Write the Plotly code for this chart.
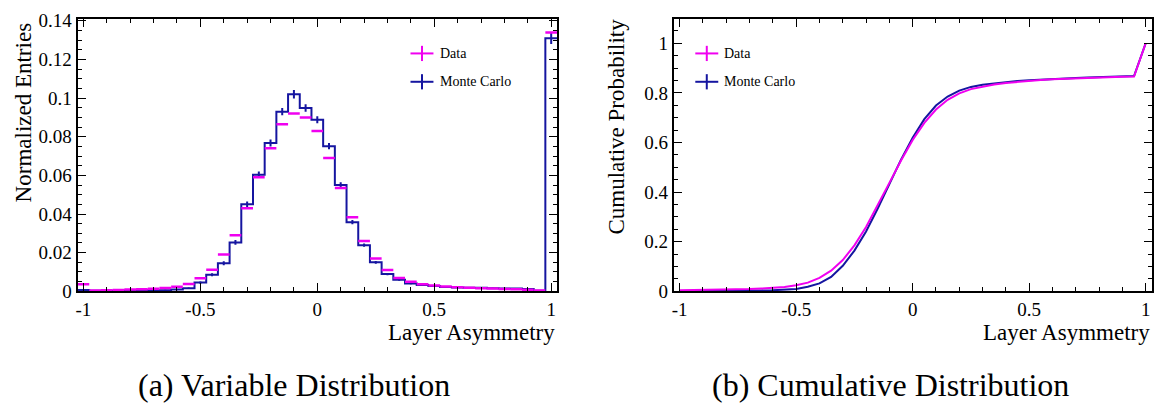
import plotly.graph_objects as go

# ---------------- data ----------------
bin_centers = [-1.0, -0.95, -0.9, -0.85, -0.8, -0.75, -0.7, -0.65, -0.6, -0.55,
               -0.5, -0.45, -0.4, -0.35, -0.3, -0.25, -0.2, -0.15, -0.1, -0.05,
               0.0, 0.05, 0.1, 0.15, 0.2, 0.25, 0.3, 0.35, 0.4, 0.45,
               0.5, 0.55, 0.6, 0.65, 0.7, 0.75, 0.8, 0.85, 0.9, 0.95, 1.0]
bin_half_width = 0.025

data_hist = [0.0036, 0.0004, 0.0005, 0.0007, 0.0009, 0.0011, 0.0013, 0.0017, 0.0023, 0.0038,
             0.0068, 0.0112, 0.0190, 0.0290, 0.0430, 0.0590, 0.0740, 0.0865, 0.0920, 0.0900,
             0.0830, 0.0690, 0.0535, 0.0383, 0.0261, 0.0170, 0.0110, 0.0069, 0.0050, 0.0036,
             0.0030, 0.0025, 0.0021, 0.0018, 0.0016, 0.0014, 0.0012, 0.0010, 0.0008, 0.0004, 0.1340]

mc_hist = [0.0007, 0.0003, 0.0003, 0.0003, 0.0004, 0.0004, 0.0005, 0.0006, 0.0009, 0.0016,
           0.0045, 0.0086, 0.0145, 0.0253, 0.0450, 0.0603, 0.0768, 0.0930, 0.1020, 0.0949,
           0.0888, 0.0751, 0.0550, 0.0358, 0.0239, 0.0150, 0.0089, 0.0060, 0.0040, 0.0033,
           0.0027, 0.0022, 0.0020, 0.0019, 0.0018, 0.0016, 0.0015, 0.0014, 0.0012, 0.0003, 0.1310]

mc_err = [0.0003, 0.0002, 0.0002, 0.0002, 0.0002, 0.0002, 0.0002, 0.0002, 0.0003, 0.0004,
          0.0006, 0.0008, 0.0010, 0.0012, 0.0015, 0.0017, 0.0018, 0.0019, 0.0022, 0.0019,
          0.0018, 0.0016, 0.0014, 0.0011, 0.0009, 0.0007, 0.0006, 0.0005, 0.0004, 0.0004,
          0.0003, 0.0003, 0.0003, 0.0003, 0.0003, 0.0003, 0.0002, 0.0002, 0.0002, 0.0001, 0.0030]

data_cum = [0.004, 0.0045, 0.005, 0.006, 0.007, 0.008, 0.009, 0.011, 0.013, 0.017,
            0.024, 0.035, 0.054, 0.083, 0.126, 0.185, 0.259, 0.345, 0.437, 0.527,
            0.610, 0.679, 0.733, 0.772, 0.798, 0.815, 0.826, 0.834, 0.840, 0.845,
            0.849, 0.852, 0.855, 0.857, 0.859, 0.861, 0.863, 0.864, 0.865, 0.866, 1.0]

mc_cum = [0.001, 0.001, 0.0015, 0.002, 0.002, 0.0025, 0.003, 0.0035, 0.0045, 0.006,
          0.009, 0.018, 0.032, 0.058, 0.103, 0.164, 0.241, 0.334, 0.436, 0.531,
          0.619, 0.694, 0.749, 0.785, 0.809, 0.824, 0.833, 0.839, 0.844, 0.848,
          0.851, 0.854, 0.856, 0.858, 0.860, 0.862, 0.864, 0.866, 0.867, 0.868, 1.0]

x_tickvals = [-1, -0.5, 0, 0.5, 1]
x_ticktext = ["-1", "-0.5", "0", "0.5", "1"]
y1_tickvals = [0, 0.02, 0.04, 0.06, 0.08, 0.1, 0.12, 0.14]
y1_ticktext = ["0", "0.02", "0.04", "0.06", "0.08", "0.1", "0.12", "0.14"]
y2_tickvals = [0, 0.2, 0.4, 0.6, 0.8, 1.0]
y2_ticktext = ["0", "0.2", "0.4", "0.6", "0.8", "1"]

# ---------------- style ----------------
MAGENTA = "#f000f0"
BLUE = "#1515a0"
FONT = "Liberation Serif"

fig = go.Figure()

# step outline of the MC histogram (bin edges derived from centres)
edges = [c - bin_half_width for c in bin_centers] + [bin_centers[-1] + bin_half_width]
fig.add_trace(go.Scatter(x=edges, y=mc_hist + [mc_hist[-1]], mode="lines",
                         line=dict(color=BLUE, width=2, shape="hv"),
                         xaxis="x", yaxis="y", hoverinfo="skip", showlegend=False))
fig.add_trace(go.Scatter(x=bin_centers, y=mc_hist, mode="markers",
                         marker=dict(size=0.1, color=BLUE),
                         error_y=dict(type="data", array=mc_err, color=BLUE, thickness=2, width=0),
                         xaxis="x", yaxis="y", showlegend=False))
fig.add_trace(go.Scatter(x=bin_centers, y=data_hist, mode="markers",
                         marker=dict(size=0.1, color=MAGENTA),
                         error_x=dict(type="constant", value=bin_half_width, color=MAGENTA,
                                      thickness=2.5, width=0),
                         xaxis="x", yaxis="y", showlegend=False))

fig.add_trace(go.Scatter(x=bin_centers, y=mc_cum, mode="lines",
                         line=dict(color=BLUE, width=2),
                         xaxis="x2", yaxis="y2", showlegend=False))
fig.add_trace(go.Scatter(x=bin_centers, y=data_cum, mode="lines",
                         line=dict(color=MAGENTA, width=2),
                         xaxis="x2", yaxis="y2", showlegend=False))

W, H = 1157, 412
L1, R1 = 75.7, 556.0
L2, R2 = 673.0, 1151.5
TOP1, TOP2, BOT = 11.0, 10.7, 296.7

tickfont = dict(family=FONT, size=19, color="black")
common_axis = dict(showline=True, linewidth=2, linecolor="black", mirror="allticks",
                   ticks="inside", ticklen=8, tickwidth=1, tickcolor="black",
                   showgrid=False, zeroline=False, tickfont=tickfont, tickmode="array")

fig.update_layout(
    width=W, height=H, autosize=False,
    margin=dict(l=0, r=0, t=0, b=0),
    paper_bgcolor="white", plot_bgcolor="white",
    font=dict(family=FONT, color="black"),
    xaxis=dict(domain=[L1 / W, R1 / W], range=[-1.025, 1.025], anchor="y",
               tickvals=x_tickvals, ticktext=x_ticktext,
               minor=dict(tickmode="linear", tick0=-1, dtick=0.1, ticks="inside",
                          ticklen=4, tickcolor="black", tickwidth=1),
               **common_axis),
    yaxis=dict(domain=[1 - BOT / H, 1 - TOP1 / H], range=[0, 0.1407], anchor="x",
               tickvals=y1_tickvals, ticktext=y1_ticktext,
               minor=dict(tickmode="linear", tick0=0, dtick=0.005, ticks="inside",
                          ticklen=4, tickcolor="black", tickwidth=1),
               **common_axis),
    xaxis2=dict(domain=[L2 / W, R2 / W], range=[-1.025, 1.025], anchor="y2",
                tickvals=x_tickvals, ticktext=x_ticktext,
                minor=dict(tickmode="linear", tick0=-1, dtick=0.1, ticks="inside",
                           ticklen=4, tickcolor="black", tickwidth=1),
                **common_axis),
    yaxis2=dict(domain=[1 - BOT / H, 1 - TOP2 / H], range=[0, 1.097], anchor="x2",
                tickvals=y2_tickvals, ticktext=y2_ticktext,
                minor=dict(tickmode="linear", tick0=0, dtick=0.05, ticks="inside",
                           ticklen=4, tickcolor="black", tickwidth=1),
                **common_axis),
)

title_font = dict(family=FONT, size=23, color="black")
ann = []
ann.append(dict(text="Normalized Entries", x=21 / W, y=1 - 12 / H, xref="paper", yref="paper",
                xanchor="center", yanchor="top", textangle=-90, showarrow=False, font=title_font))
ann.append(dict(text="Layer Asymmetry", x=R1 / W, y=1 - 325 / H, xref="paper", yref="paper",
                xanchor="right", yanchor="top", showarrow=False, font=title_font))
ann.append(dict(text="Cumulative Probability", x=616 / W, y=1 - 8 / H, xref="paper", yref="paper",
                xanchor="center", yanchor="top", textangle=-90, showarrow=False, font=title_font))
ann.append(dict(text="Layer Asymmetry", x=R2 / W, y=1 - 325 / H, xref="paper", yref="paper",
                xanchor="right", yanchor="top", showarrow=False, font=title_font))
cap_font = dict(family=FONT, size=32, color="black")
ann.append(dict(text="(a) Variable Distribution", x=293 / W, y=1 - 395 / H, xref="paper", yref="paper",
                xanchor="center", yanchor="middle", showarrow=False, font=cap_font))
ann.append(dict(text="(b) Cumulative Distribution", x=890 / W, y=1 - 395 / H, xref="paper", yref="paper",
                xanchor="center", yanchor="middle", showarrow=False, font=cap_font))

# legends (cross symbols drawn as shapes + text)
shapes = []
leg_font = dict(family=FONT, size=14, color="black")
for (L, R, T, xr, yr, cx_px, tx_px) in [(L1, R1, TOP1, "x domain", "y domain", 420.7, 437.0),
                                         (L2, R2, TOP2, "x2 domain", "y2 domain", 706.0, 721.0)]:
    wdom = R - L
    hdom = BOT - T
    for label, color, cy_px in [("Data", MAGENTA, 46.7), ("Monte Carlo", BLUE, 76.5)]:
        cx = (cx_px - L) / wdom
        cy = (BOT - cy_px) / hdom
        dx = 11.5 / wdom
        dy = 8.0 / hdom
        shapes.append(dict(type="line", xref=xr, yref=yr, x0=cx - dx, x1=cx + dx, y0=cy, y1=cy,
                           line=dict(color=color, width=2)))
        shapes.append(dict(type="line", xref=xr, yref=yr, x0=cx, x1=cx, y0=cy - dy, y1=cy + dy,
                           line=dict(color=color, width=2)))
        ann.append(dict(text=label, x=(tx_px - L) / wdom, y=cy, xref=xr, yref=yr,
                        xanchor="left", yanchor="middle", showarrow=False, font=leg_font))

fig.update_layout(annotations=ann, shapes=shapes)

fig.write_html("out.html")
